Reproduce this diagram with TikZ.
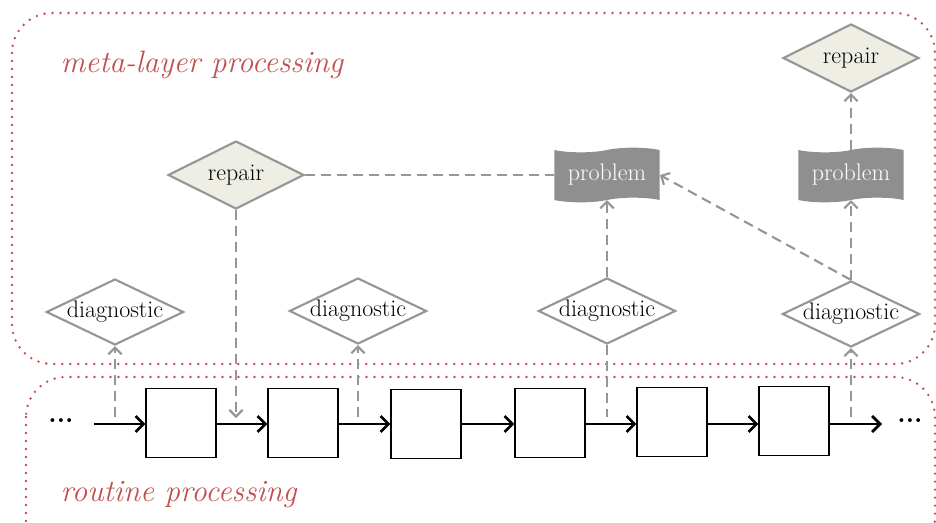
\documentclass[tikz,border=0pt]{standalone}
\usepackage{tikz}
\usetikzlibrary{shapes.geometric}
\usetikzlibrary{shapes.symbols}
\usetikzlibrary{arrows.meta}
\definecolor{layerred}{RGB}{192,80,77}
\definecolor{linegray}{RGB}{150,150,150}
\definecolor{probgray}{RGB}{143,143,143}
\definecolor{repairfill}{RGB}{238,238,228}

\tikzset{
  layerframe/.style={draw=layerred,line width=2pt,line cap=round,dash pattern=on 0pt off 6pt,rounded corners=30pt},
  layerlabel/.style={anchor=west,text=layerred,font=\fontsize{23.2}{26}\selectfont\itshape},
  stepbox/.style={draw,line width=0.9pt,fill=white,minimum width=52.5pt,minimum height=51.5pt,inner sep=0pt},
  diagbox/.style={diamond,aspect=2.1,inner sep=-1pt,draw=linegray,line width=1.6pt,fill=white,minimum width=103pt,minimum height=49.5pt,font=\fontsize{18}{20}\selectfont},
  repairbox/.style={diagbox,fill=repairfill,minimum width=102pt,minimum height=51pt},
  probshape/.style={tape,tape bend height=3.5pt,draw=none,fill=probgray,text=white,minimum width=79pt,minimum height=41pt,inner sep=0pt,font=\fontsize{18}{20}\selectfont},
  flowarrow/.style={line width=2pt,-{Straight Barb[length=6pt,width=12pt,line width=2pt]}},
  dashline/.style={draw=linegray,line width=1.6pt,dash pattern=on 7.5pt off 4.5pt},
  dasharrow/.style={dashline,-{Straight Barb[length=5pt,width=10pt,line width=1.6pt]}}
}

\begin{document}
\begin{tikzpicture}[x=0.75pt,y=0.75pt,yscale=-1,xscale=1]
\clip (0,0) rectangle (936,522);
\path[use as bounding box] (0,0) rectangle (936,522);

%Layers
\draw[layerframe] (12,13) rectangle (935,364);
\draw[layerframe] (26,377) rectangle (935,560);
\node[layerlabel] (metalabel) at (56,65) {meta-layer processing};
\node[layerlabel] (routinelabel) at (56,495) {routine processing};

%Routine chain
\node (dotsL) at (61,421) {\fontsize{20}{22}\selectfont\textbf{...}};
\node (dotsR) at (910,421) {\fontsize{20}{22}\selectfont\textbf{...}};
\coordinate (chainstart) at (94,424);
\coordinate (chainend) at (882,424);
\node[stepbox] (box1) at (181,423) {};
\node[stepbox] (box2) at (303,423) {};
\node[stepbox] (box3) at (426,424) {};
\node[stepbox] (box4) at (550,423) {};
\node[stepbox] (box5) at (672,422) {};
\node[stepbox] (box6) at (794,421) {};

\draw[flowarrow] (chainstart) -- (box1.west |- chainstart);
\draw[flowarrow] (box1.east |- chainstart) -- (box2.west |- chainstart);
\draw[flowarrow] (box2.east |- chainstart) -- (box3.west |- chainstart);
\draw[flowarrow] (box3.east |- chainstart) -- (box4.west |- chainstart);
\draw[flowarrow] (box4.east |- chainstart) -- (box5.west |- chainstart);
\draw[flowarrow] (box5.east |- chainstart) -- (box6.west |- chainstart);
\draw[flowarrow] (box6.east |- chainstart) -- (chainend);

%Meta layer
\node[diagbox] (diag1) at (115,312) {diagnostic};
\node[diagbox] (diag2) at (358,311) {diagnostic};
\node[diagbox] (diag3) at (607,311) {diagnostic};
\node[diagbox] (diag4) at (851,314) {diagnostic};
\node[repairbox] (repair1) at (236,175) {repair};
\node[repairbox] (repair2) at (851,58) {repair};
\node[probshape] (problem1) at (607,175) {problem};
\node[probshape] (problem2) at (851,175) {problem};

\coordinate (tap1) at (115,417);
\coordinate (tap2) at (236,418);
\coordinate (tap3) at (358,417);
\coordinate (tap4) at (607,417);
\coordinate (tap5) at (851,417);

\draw[dasharrow] (tap1) -- (diag1.south);
\draw[dasharrow] (repair1.south) -- (tap2);
\draw[dasharrow] (tap3) -- (diag2.south);
\draw[dashline] (diag3.south) -- (tap4);
\draw[dasharrow] (tap5) -- (diag4.south);
\draw[dashline] (repair1.east) -- (problem1.west);
\draw[dasharrow] (diag3.north) -- (problem1.south);
\draw[dasharrow] (diag4.north) -- (problem1.east);
\draw[dasharrow] (diag4.north) -- (problem2.south);
\draw[dasharrow] (problem2.north) -- (repair2.south);

\end{tikzpicture}
\end{document}
